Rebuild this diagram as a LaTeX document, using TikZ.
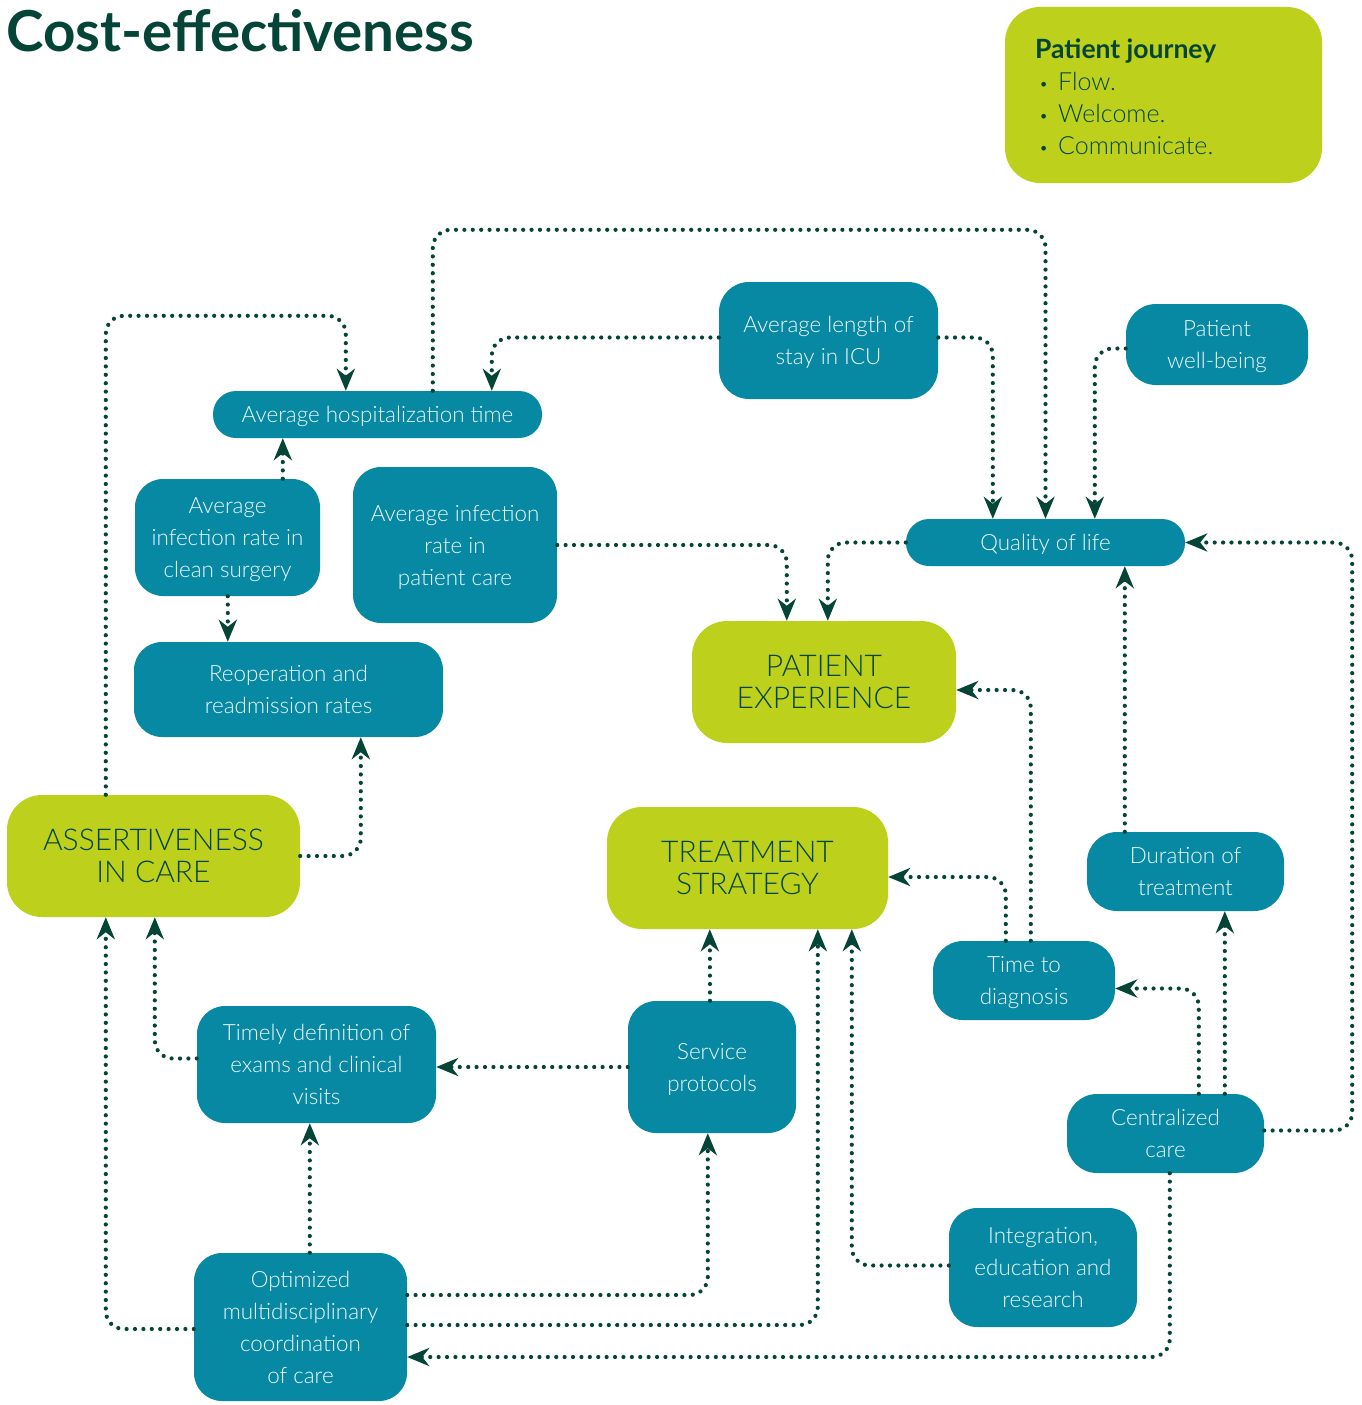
\documentclass[tikz,border=0pt]{standalone}
\usepackage{fontspec}
\setmainfont{Lato}
\newfontfamily\lightfont{Lato Light}
\usetikzlibrary{arrows.meta,calc}

\definecolor{teal}{RGB}{8,137,163}
\definecolor{lime}{RGB}{189,208,27}
\definecolor{dkgreen}{RGB}{5,69,55}
\definecolor{paletext}{RGB}{238,248,250}

\tikzset{
  tbox/.style={fill=teal, text=paletext, align=center, inner sep=0pt,
    text depth=0pt, font=\lightfont\fontsize{22.4}{32}\selectfont},
  lbox/.style={fill=lime, text=dkgreen, align=center, inner sep=0pt,
    font=\lightfont\fontsize{30}{32}\selectfont},
  link/.style={draw=dkgreen, line width=4.2pt, line cap=round,
    dash pattern=on 0pt off 8.4pt, rounded corners=18pt,
    -{Stealth[length=22pt,width=18pt,inset=7pt,fill=dkgreen]}},
}
\newcommand{\jbullet}{\makebox[23pt][l]{\hspace{4pt}\raisebox{1pt}{\fontsize{16}{16}\selectfont•}}}

\begin{document}
\begin{tikzpicture}[x=1pt,y=-1pt]
\useasboundingbox[fill=white] (0,0) rectangle (1362,1405);

% heading
\node[anchor=base west, inner sep=0pt, text=dkgreen,
  font=\fontsize{56.5}{60}\selectfont\bfseries] (title) at (6,52) {Cost-effectiveness};

% patient journey panel
\node[fill=lime, rounded corners=35pt, minimum width=317pt, minimum height=176pt,
  inner sep=0pt] (journey) at (1163.5,95) {};
\node[anchor=west, inner sep=0pt, align=left, text=dkgreen,
  font=\lightfont\fontsize{25}{32}\selectfont] (jtext) at (1035,97)
  {{\fontspec{Lato}\bfseries\fontsize{26.5}{32}\selectfont Patient journey}\\
   \jbullet Flow.\\
   \jbullet Welcome.\\
   \jbullet Communicate.};

% teal boxes
\node[tbox, rounded corners=23pt, minimum width=329pt, minimum height=47pt] (hosp) at (377.5,414.5) {Average hospitalization time};
\node[tbox, rounded corners=30pt, minimum width=219pt, minimum height=117pt] (icu) at (828.5,340.5) {Average length of\\stay in ICU};
\node[tbox, rounded corners=30pt, minimum width=182pt, minimum height=81pt] (wellb) at (1217,344.5) {Patient\\well-being};
\node[tbox, rounded corners=28pt, minimum width=185pt, minimum height=117pt] (clean) at (227.5,537.5) {Average\\infection rate in\\clean surgery};
\node[tbox, rounded corners=28pt, minimum width=204pt, minimum height=156pt] (pcare) at (455,545) {Average infection\\rate in\\patient care};
\node[tbox, rounded corners=23pt, minimum width=279pt, minimum height=47pt] (qol) at (1045.5,542.5) {Quality of life};
\node[tbox, rounded corners=28pt, minimum width=309pt, minimum height=95pt] (reop) at (288.5,689.5) {Reoperation and\\readmission rates};
\node[tbox, rounded corners=30pt, minimum width=197pt, minimum height=79pt] (durat) at (1185.5,871.5) {Duration of\\treatment};
\node[tbox, rounded corners=30pt, minimum width=182pt, minimum height=79pt] (tdiag) at (1024,980.5) {Time to\\diagnosis};
\node[tbox, rounded corners=28pt, minimum width=239pt, minimum height=117pt] (timely) at (316.5,1064.5) {Timely definition of\\exams and clinical\\visits};
\node[tbox, rounded corners=28pt, minimum width=168pt, minimum height=132pt] (servp) at (712,1067) {Service\\protocols};
\node[tbox, rounded corners=30pt, minimum width=197pt, minimum height=79pt] (central) at (1165.5,1133.5) {Centralized\\care};
\node[tbox, rounded corners=28pt, minimum width=188pt, minimum height=119pt] (integ) at (1043,1267.5) {Integration,\\education and\\research};
\node[tbox, rounded corners=28pt, minimum width=213pt, minimum height=148pt] (optim) at (300.5,1327) {Optimized\\multidisciplinary\\coordination\\of care};

% lime boxes
\node[lbox, rounded corners=35pt, minimum width=264pt, minimum height=122pt] (pexp) at (824,682) {PATIENT\\EXPERIENCE};
\node[lbox, rounded corners=35pt, minimum width=293pt, minimum height=122pt] (assert) at (153.5,856) {ASSERTIVENESS\\IN CARE};
\node[lbox, rounded corners=35pt, minimum width=281pt, minimum height=122pt] (treat) at (747.5,868) {TREATMENT\\STRATEGY};

% connectors
\path[link] ($(assert.north west)+(99,0)$) |- ($(hosp.north west)+(133,-75)$) -- ($(hosp.north west)+(133,0)$);
\path[link] ($(hosp.north west)+(220,0)$) |- ($(qol.north)+(0,-289)$) -- (qol.north);
\path[link] ($(icu.west)+(0,-3)$) -| ($(hosp.north west)+(279,0)$);
\path[link] ($(icu.east)+(0,-3)$) -| ($(qol.north west)+(87,0)$);
\path[link] ($(wellb.west)+(0,4)$) -| ($(qol.north west)+(189,0)$);
\path[link] ($(clean.north west)+(148,0)$) -- ($(hosp.south west)+(70,0)$);
\path[link] ($(clean.south west)+(93,0)$) -- ($(reop.north west)+(94,0)$);
\path[link] (pcare.east) -| ($(pexp.north west)+(95,0)$);
\path[link] (qol.west) -| ($(pexp.north west)+(136,0)$);
\path[link] (assert.east) -| ($(reop.south west)+(227,0)$);
\path[link] ($(tdiag.north west)+(98,0)$) |- ($(pexp.east)+(0,8)$);
\path[link] ($(tdiag.north west)+(73,0)$) |- ($(treat.east)+(0,9)$);
\path[link] ($(durat.north west)+(38,0)$) -- ($(qol.south west)+(219,0)$);
\path[link] ($(central.east)+(0,-3)$) -| ($(qol.east)+(167,0)$) -- (qol.east);
\path[link] ($(central.north west)+(132,0)$) |- ($(tdiag.east)+(0,8)$);
\path[link] ($(central.north west)+(158,0)$) -- ($(durat.south west)+(138,0)$);
\path[link] ($(central.south west)+(103,0)$) |- ($(optim.east)+(0,30)$);
\path[link] ($(servp.north)+(-2,0)$) -- ($(treat.south west)+(103,0)$);
\path[link] (servp.west) -- (servp.west -| timely.east);
\path[link] ($(timely.west)+(0,-6)$) -| ($(assert.south west)+(148,0)$);
\path[link] ($(optim.north west)+(116,0)$) -- ($(timely.south west)+(113,0)$);
\path[link] ($(optim.west)+(0,2)$) -| ($(assert.south west)+(99,0)$);
\path[link] ($(optim.east)+(0,-32)$) -| ($(servp.south west)+(80,0)$);
\path[link] ($(optim.east)+(0,-2)$) -| ($(treat.south west)+(211,0)$);
\path[link] ($(integ.west)+(0,-2)$) -| ($(treat.south west)+(245,0)$);
\end{tikzpicture}
\end{document}
